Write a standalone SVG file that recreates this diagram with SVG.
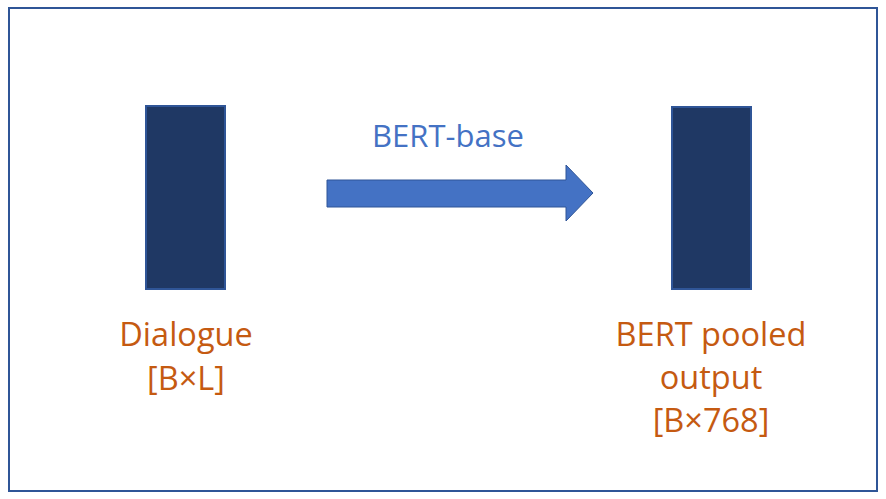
<svg xmlns="http://www.w3.org/2000/svg" width="886" height="499" viewBox="0 0 886 499">
  <style>
    .block { fill: #1F3864; stroke: #2F5597; stroke-width: 2; }
    .lbl { font-family: "Open Sans", "Noto Sans", "Liberation Sans", sans-serif; font-size: 32.5px; fill: #C55A11; text-anchor: middle; }
    .arrowlbl { font-family: "Open Sans", "Noto Sans", "Liberation Sans", sans-serif; font-size: 31px; fill: #4472C4; text-anchor: middle; }
  </style>
  <rect x="0" y="0" width="886" height="499" fill="#FFFFFF"/>
  <rect id="frame" x="9" y="8" width="868" height="483" fill="none" stroke="#2F5597" stroke-width="2"/>
  <g id="dialogue">
    <rect class="block" x="146" y="106" width="79" height="183"/>
    <text class="lbl" x="186" y="346">Dialogue</text>
    <text class="lbl" x="186" y="390">[B×L]</text>
  </g>
  <g id="pooled">
    <rect class="block" x="672" y="107" width="79" height="182"/>
    <text class="lbl" x="711" y="346">BERT pooled</text>
    <text class="lbl" x="711" y="389">output</text>
    <text class="lbl" x="711" y="432">[B×768]</text>
  </g>
  <g id="connectors">
    <polygon points="327,180 566,180 566,165 593,193 566,221 566,207 327,207" fill="#4472C4" stroke="#2F5597" stroke-width="1"/>
    <text class="arrowlbl" x="448" y="147">BERT-base</text>
  </g>
</svg>
